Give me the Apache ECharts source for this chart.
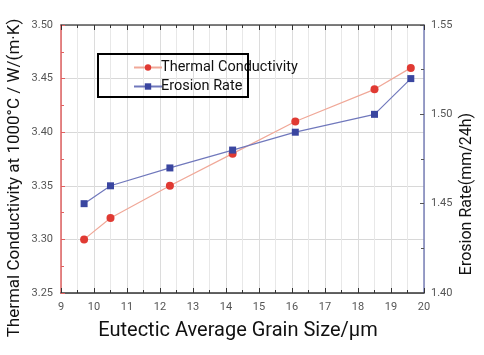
<!DOCTYPE html>
<html>
<head>
<meta charset="utf-8">
<script src="https://cdn.jsdelivr.net/npm/echarts@6/dist/echarts.min.js"></script>
<style>
html,body{margin:0;padding:0;background:#fff;}
#chart{width:484px;height:355px;}
</style>
</head>
<body>
<div id="chart"></div>
<script>
var grainSize = [9.7, 10.5, 12.3, 14.2, 16.1, 18.5, 19.6];
var thermalConductivity = [3.30, 3.32, 3.35, 3.38, 3.41, 3.44, 3.46];
var erosionRate = [1.45, 1.46, 1.47, 1.48, 1.49, 1.50, 1.52];
var seriesNames = ['Thermal Conductivity', 'Erosion Rate'];
var xTitle = 'Eutectic Average Grain Size/\u03bcm';
var yLeftTitle = 'Thermal Conductivity at 1000\u00b0C / W/(m\u00b7K)';
var yRightTitle = 'Erosion Rate(mm/24h)';

function pairs(xs, ys){ return xs.map(function(x,i){ return [x, ys[i]]; }); }

var chart = echarts.init(document.getElementById('chart'), null, {renderer:'canvas'});
var labelStyle = {color:'#555', fontSize:11, fontFamily:'Liberation Sans Narrow, Roboto, sans-serif'};
var option = {
  backgroundColor:'#fff',
  animation:false,
  grid:{left:61, right:60, top:25, bottom:62},
  legend:{
    orient:'vertical', left:128, top:55, itemGap:4, itemWidth:28, itemHeight:8,
    textStyle:{fontSize:14.5, color:'#111', fontFamily:'Roboto, sans-serif', padding:[0,0,0,-6]},
    data:seriesNames
  },
  graphic:[
    {type:'rect', shape:{x:98, y:54, width:150, height:43}, style:{fill:'none', stroke:'#000', lineWidth:2}, z:100},
    {type:'text', x:15, y:178, rotation:Math.PI/2, style:{text:yLeftTitle, fontSize:17, fontFamily:'Roboto, sans-serif', fill:'#111', align:'center', verticalAlign:'middle'}},
    {type:'text', x:467, y:194, rotation:Math.PI/2, style:{text:yRightTitle, fontSize:16, fontFamily:'Roboto, sans-serif', fill:'#111', align:'center', verticalAlign:'middle'}},
    {type:'text', x:238, y:331, style:{text:xTitle, fontSize:20, fontFamily:'Roboto, sans-serif', fill:'#111', align:'center', verticalAlign:'middle'}}
  ],
  xAxis:[
    {type:'value', min:9, max:20, interval:1, position:'bottom',
     axisLine:{lineStyle:{color:'#333', width:1.5}},
     axisTick:{inside:true, length:5, lineStyle:{color:'#333'}},
     minorTick:{show:true, splitNumber:2, length:3, lineStyle:{color:'#333'}},
     axisLabel:Object.assign({margin:9}, labelStyle),
     splitLine:{show:true, lineStyle:{color:'#dcdcdc', width:1}},
     minorSplitLine:{show:true, lineStyle:{color:'#e8e8e8', width:1}}
    },
    {type:'value', min:9, max:20, interval:1, position:'top',
     axisLine:{show:true, lineStyle:{color:'#555', width:1.5}},
     axisTick:{inside:true, length:5, lineStyle:{color:'#333'}},
     minorTick:{show:true, splitNumber:2, length:3, lineStyle:{color:'#333'}},
     axisLabel:{show:false}, splitLine:{show:false}
    }
  ],
  yAxis:[
    {type:'value', min:3.25, max:3.50, interval:0.05, position:'left',
     axisLine:{show:true, lineStyle:{color:'#e06060', width:1.5}},
     axisTick:{show:true, inside:true, length:4, lineStyle:{color:'#e06060'}},
     minorTick:{show:true, splitNumber:2, length:3, lineStyle:{color:'#e06060'}},
     axisLabel:Object.assign({margin:8, formatter:function(v){return v.toFixed(2);}}, labelStyle),
     splitLine:{show:true, lineStyle:{color:'#d8d8d8', width:1}}
    },
    {type:'value', min:1.40, max:1.55, interval:0.05, position:'right',
     axisLine:{show:true, lineStyle:{color:'#7a80b8', width:1.5}},
     axisTick:{show:true, inside:true, length:4, lineStyle:{color:'#555'}},
     minorTick:{show:true, splitNumber:2, length:3, lineStyle:{color:'#555'}},
     axisLabel:Object.assign({margin:7, formatter:function(v){return v.toFixed(2);}}, labelStyle),
     splitLine:{show:false}
    }
  ],
  series:[
    {name:seriesNames[0], type:'line', xAxisIndex:0, yAxisIndex:0, data:pairs(grainSize, thermalConductivity),
     symbol:'circle', symbolSize:8, itemStyle:{color:'#e03a33'}, lineStyle:{color:'#f0a898', width:1.2}, z:3},
    {name:seriesNames[1], type:'line', xAxisIndex:0, yAxisIndex:1, data:pairs(grainSize, erosionRate),
     symbol:'rect', symbolSize:7, itemStyle:{color:'#3a46a0'}, lineStyle:{color:'#7078bc', width:1.2}, z:4}
  ]
};
chart.setOption(option);
</script>
</body>
</html>
